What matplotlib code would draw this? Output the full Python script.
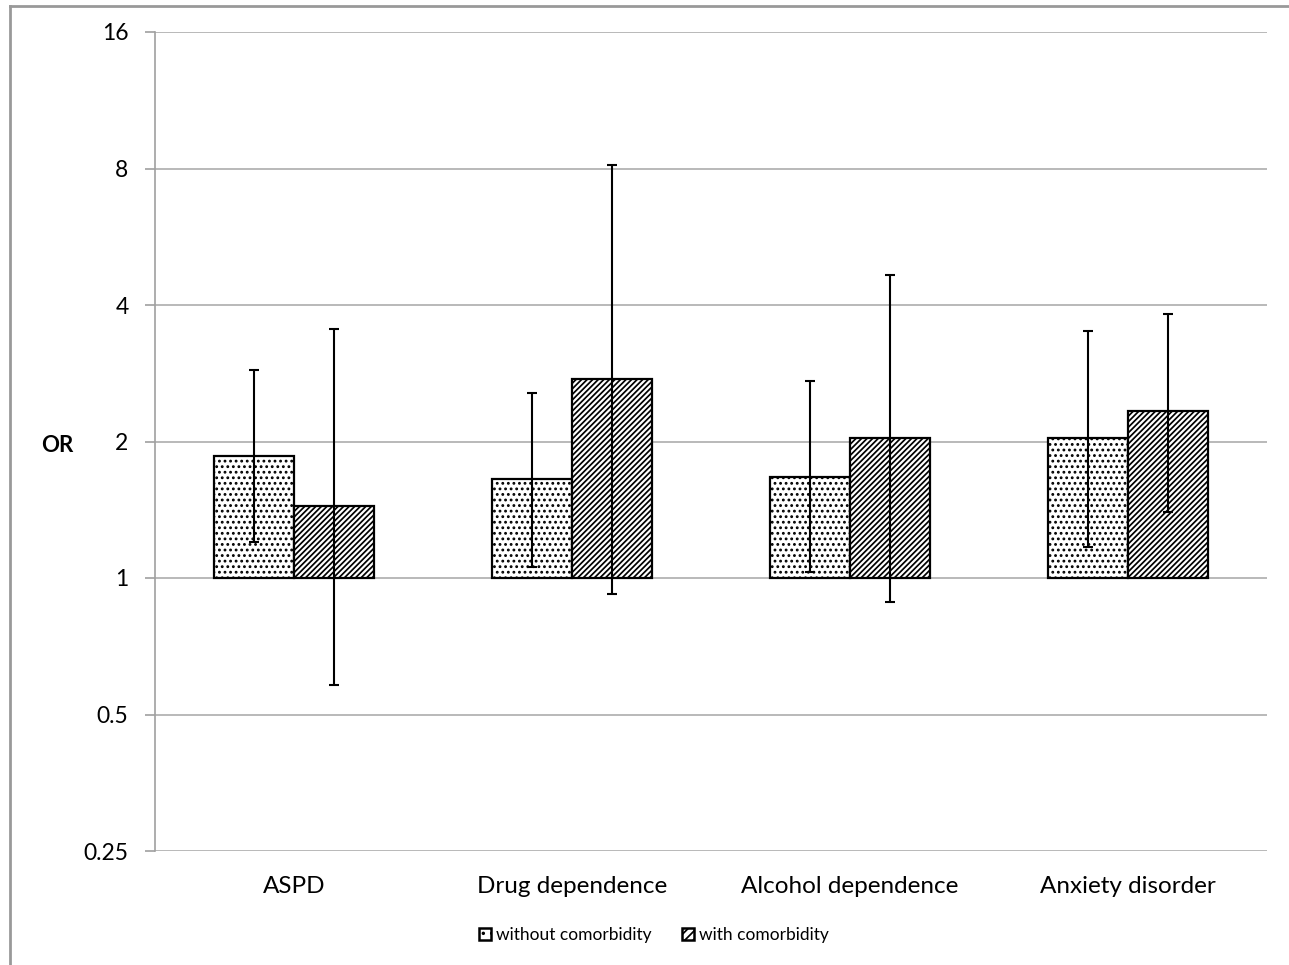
import matplotlib.pyplot as plt
import numpy as np
from matplotlib.patches import Patch
from matplotlib.lines import Line2D

plt.rcParams['font.family'] = ['Lato', 'DejaVu Sans']
plt.rcParams['hatch.linewidth'] = 1.25

categories = ['ASPD', 'Drug dependence', 'Alcohol dependence', 'Anxiety disorder']
series = ['without comorbidity', 'with comorbidity']

# odds ratios and 95% CI
or_without = [1.86, 1.65, 1.67, 2.04]
lo_without = [1.20, 1.06, 1.03, 1.17]
hi_without = [2.87, 2.56, 2.72, 3.51]

or_with = [1.44, 2.75, 2.04, 2.34]
lo_with = [0.58, 0.92, 0.885, 1.40]
hi_with = [3.54, 8.14, 4.66, 3.82]

yticks = [0.25, 0.5, 1, 2, 4, 8, 16]
ytick_labels = ['0.25', '0.5', '1', '2', '4', '8', '16']

fig = plt.figure(figsize=(12.89, 9.65), dpi=100, facecolor='white')
ax = fig.add_axes([155/1289, 1 - 851/965, 1112/1289, (851 - 32)/965])

x = np.arange(len(categories))
w = 0.287

def draw(xs, vals, lo, hi, hatch):
    vals = np.array(vals)
    ax.bar(xs, vals - 1, bottom=1, width=w, facecolor='white', edgecolor='black',
           linewidth=1.6, hatch=hatch, zorder=3)
    err = [vals - np.array(lo), np.array(hi) - vals]
    ax.errorbar(xs, vals, yerr=err, fmt='none', ecolor='black', elinewidth=1.5,
                capsize=3.5, capthick=1.5, zorder=4)

draw(x - w/2, or_without, lo_without, hi_without, '...')
draw(x + w/2, or_with, lo_with, hi_with, '//////')

ax.set_yscale('log', base=2)
ax.set_ylim(0.25, 16)
ax.set_xlim(-0.5, len(categories) - 0.5)
ax.set_yticks(yticks)
ax.set_yticklabels(ytick_labels, fontsize=16.5)
ax.minorticks_off()
ax.set_xticks(x)
ax.set_xticklabels(categories, fontsize=17.5)
ax.tick_params(axis='x', length=0, pad=18)
ax.tick_params(axis='y', length=7, color='#a0a0a0', width=1.2, pad=12)
ax.yaxis.grid(True, color='#b3b3b3', linewidth=1.3, zorder=0)
ax.set_axisbelow(True)
for s in ['top', 'right', 'bottom']:
    ax.spines[s].set_visible(False)
ax.spines['left'].set_color('#a0a0a0')
ax.spines['left'].set_linewidth(1.2)

fig.text(57/1289, 1 - 445/965, 'OR', fontsize=16, fontweight='bold',
         ha='center', va='center')

handles = [Patch(facecolor='white', edgecolor='black', linewidth=1.8, hatch='..'),
           Patch(facecolor='white', edgecolor='black', linewidth=1.8, hatch='////')]
fig.legend(handles, series, loc='center', bbox_to_anchor=(654/1289, 1 - 935/965),
           ncol=2, frameon=False, fontsize=12.5, handlelength=0.7, handleheight=0.7,
           handletextpad=0.3, columnspacing=1.7)

# outer chart border (only left and top edges visible)
fig.add_artist(Line2D([10/1289, 10/1289], [0, 1 - 6/965], color='#999999',
                      linewidth=2, transform=fig.transFigure))
fig.add_artist(Line2D([10/1289, 1], [1 - 6/965, 1 - 6/965], color='#999999',
                      linewidth=2, transform=fig.transFigure))

fig.savefig('out.png', dpi=100, facecolor='white')
